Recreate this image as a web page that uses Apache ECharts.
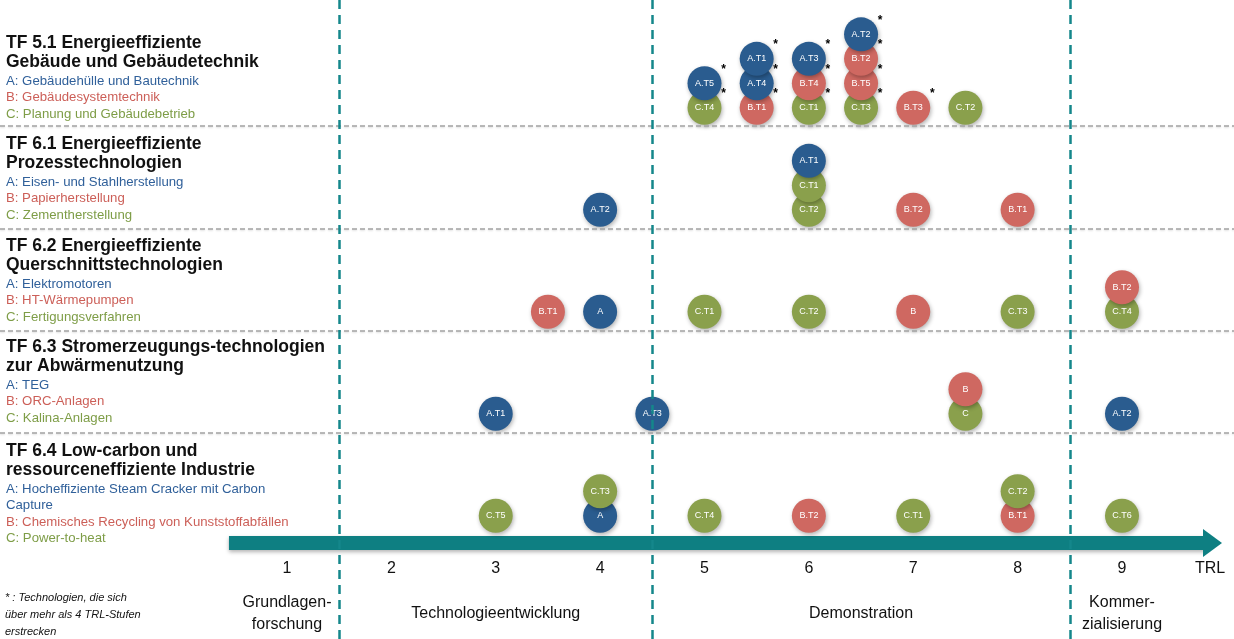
<!DOCTYPE html>
<html><head><meta charset="utf-8">
<script src="https://cdn.jsdelivr.net/npm/echarts@6/dist/echarts.min.js"></script>
<style>html,body{margin:0;padding:0;background:#fff}#c{width:1234px;height:639px}</style>
</head><body><div id="c"></div>
<script>
// ---------- data ----------
const tickValues = [1, 2, 3, 4, 5, 6, 7, 8, 9];
const tickLabels = ['1', '2', '3', '4', '5', '6', '7', '8', '9'];
const axisName = 'TRL';
// phase name, first TRL, last TRL
const phases = [
  ['Grundlagen-\nforschung', 1, 1],
  ['Technologieentwicklung', 2, 4],
  ['Demonstration', 5, 8],
  ['Kommer-\nzialisierung', 9, 9]
];
const rowTitles = [
  'TF 5.1 Energieeffiziente\nGebäude und Gebäudetechnik',
  'TF 6.1 Energieeffiziente\nProzesstechnologien',
  'TF 6.2 Energieeffiziente\nQuerschnittstechnologien',
  'TF 6.3 Stromerzeugungs-technologien\nzur Abwärmenutzung',
  'TF 6.4 Low-carbon und\nressourceneffiziente Industrie'
];
const rowSubtitles = [
  ['A: Gebäudehülle und Bautechnik', 'B: Gebäudesystemtechnik', 'C: Planung und Gebäudebetrieb'],
  ['A: Eisen- und Stahlherstellung', 'B: Papierherstellung', 'C: Zementherstellung'],
  ['A: Elektromotoren', 'B: HT-Wärmepumpen', 'C: Fertigungsverfahren'],
  ['A: TEG', 'B: ORC-Anlagen', 'C: Kalina-Anlagen'],
  ['A: Hocheffiziente Steam Cracker mit Carbon\nCapture', 'B: Chemisches Recycling von Kunststoffabfällen', 'C: Power-to-heat']
];
const footnote = '* : Technologien, die sich\nüber mehr als 4 TRL-Stufen\nerstrecken';
// [TRL, stack level, label, spans > 4 TRL (asterisk)]
const tf51 = [
  [5, 0, 'C.T4', 1], [5, 1, 'A.T5', 1],
  [5.5, 0, 'B.T1', 1], [5.5, 1, 'A.T4', 1], [5.5, 2, 'A.T1', 1],
  [6, 0, 'C.T1', 1], [6, 1, 'B.T4', 1], [6, 2, 'A.T3', 1],
  [6.5, 0, 'C.T3', 1], [6.5, 1, 'B.T5', 1], [6.5, 2, 'B.T2', 1], [6.5, 3, 'A.T2', 1],
  [7, 0, 'B.T3', 1], [7.5, 0, 'C.T2', 0]
];
const tf61 = [
  [4, 0, 'A.T2', 0], [6, 0, 'C.T2', 0], [6, 1, 'C.T1', 0], [6, 2, 'A.T1', 0],
  [7, 0, 'B.T2', 0], [8, 0, 'B.T1', 0]
];
const tf62 = [
  [3.5, 0, 'B.T1', 0], [4, 0, 'A', 0], [5, 0, 'C.T1', 0], [6, 0, 'C.T2', 0],
  [7, 0, 'B', 0], [8, 0, 'C.T3', 0], [9, 0, 'C.T4', 0], [9, 1, 'B.T2', 0]
];
const tf63 = [
  [3, 0, 'A.T1', 0], [4.5, 0, 'A.T3', 0], [7.5, 0, 'C', 0], [7.5, 1, 'B', 0], [9, 0, 'A.T2', 0]
];
const tf64 = [
  [3, 0, 'C.T5', 0], [4, 0, 'A', 0], [4, 1, 'C.T3', 0], [5, 0, 'C.T4', 0],
  [6, 0, 'B.T2', 0], [7, 0, 'C.T1', 0], [8, 0, 'B.T1', 0], [8, 1, 'C.T2', 0], [9, 0, 'C.T6', 0]
];
const rowsData = [tf51, tf61, tf62, tf63, tf64];

// ---------- styling / layout ----------
const FONT = '"Liberation Sans", Arial, sans-serif';
const circleColors = { A: '#2A5C8F', B: '#CF6861', C: '#8AA04C' };
const textColors = { A: '#30609A', B: '#CC5F58', C: '#7E9D47' };
const TEAL = '#0E7F82';
const STEP = 0.24;          // stack offset in row units
const ARROW_Y = 4.267, TICK_Y = 4.52, PHASE_Y = 4.963;

const circles = [], stars = [];
rowsData.forEach((rows, r) => {
  rows.forEach(d => {
    const g = d[2][0];
    const pt = [d[0], r - d[1] * STEP];
    circles.push({ value: pt, name: d[2], itemStyle: { color: circleColors[g] } });
    if (d[3]) stars.push({ value: pt, name: '*' });
  });
});

const tickData = tickValues.map((v, i) => ({ value: [v, TICK_Y], name: tickLabels[i] }));
tickData.push({ value: [9.843, TICK_Y], name: axisName });
const phaseData = phases.map(p => ({ value: [(p[1] + p[2]) / 2, PHASE_Y], name: p[0] }));
const boundaries = phases.slice(1).map(p => ({ xAxis: p[1] - 0.5 }));
const separators = rowsData.slice(1).map((_, i) => ({ yAxis: i + 0.185 }));

// legend text graphics
const graphics = [];
const rowTop = [44, 145, 247, 348, 452];
rowTitles.forEach((t, i) => {
  let y = rowTop[i];
  t.split('\n').forEach(line => {
    graphics.push({ type: 'text', left: 6, top: y - 10, silent: true,
      style: { text: line, fill: '#111', font: 'bold 17.5px ' + FONT } });
    y += 19;
  });
  rowSubtitles[i].forEach(s => {
    const g = s[0];
    s.split('\n').forEach(line => {
      graphics.push({ type: 'text', left: 6, top: y - 7.5, silent: true,
        style: { text: line, fill: textColors[g], font: '13.2px ' + FONT } });
      y += 16.5;
    });
  });
});
footnote.split('\n').forEach((line, i) => {
  graphics.push({ type: 'text', left: 5, top: 592 + i * 17, silent: true,
    style: { text: line, fill: '#111', font: 'italic 11px ' + FONT } });
});

const textLayer = (data, extra) => ({
  type: 'scatter', z: 5, silent: true, clip: false, symbolSize: 1,
  itemStyle: { color: 'rgba(0,0,0,0)', opacity: 1 }, data: data,
  label: Object.assign({ show: true, position: 'inside', formatter: '{b}',
    color: '#111', fontSize: 16, fontFamily: FONT,
    textBorderWidth: 0, textBorderColor: 'transparent', opacity: 1 }, extra)
});

const chart = echarts.init(document.getElementById('c'));
chart.setOption({
  animation: false,
  backgroundColor: '#fff',
  grid: { left: 0, right: 0, top: 0, bottom: 0 },
  xAxis: { type: 'value', min: -1.7497, max: 10.0730, show: false },
  yAxis: { type: 'value', inverse: true, min: -1.0569, max: 5.2078, show: false },
  graphic: graphics,
  series: [
    { type: 'line', data: [], z: 1, silent: true,
      markLine: { silent: true, symbol: 'none', label: { show: false },
        lineStyle: { type: [5, 3], color: '#a3a3a3', width: 1.5,
          shadowColor: 'rgba(0,0,0,0.15)', shadowBlur: 2, shadowOffsetY: 1 },
        data: separators } },
    { type: 'line', z: 2, silent: true, clip: false, symbol: 'none',
      data: [[0.444, ARROW_Y], [9.80, ARROW_Y]],
      lineStyle: { color: TEAL, width: 14, cap: 'butt',
        shadowColor: 'rgba(0,0,0,0.3)', shadowBlur: 4, shadowOffsetY: 2 } },
    { type: 'scatter', z: 2, silent: true, clip: false,
      data: [[9.867, ARROW_Y]], symbol: 'triangle', symbolSize: [28, 19], symbolRotate: -90,
      itemStyle: { color: TEAL, opacity: 1 } },
    { type: 'line', data: [], z: 3, silent: true,
      markLine: { silent: true, symbol: 'none', label: { show: false },
        lineStyle: { type: [9, 6], color: '#14878B', width: 2.5 },
        data: boundaries } },
    { type: 'scatter', z: 4, silent: true, clip: false, symbolSize: 34,
      data: circles,
      itemStyle: { opacity: 1, shadowColor: 'rgba(0,0,0,0.3)', shadowBlur: 4, shadowOffsetX: 1, shadowOffsetY: 2 },
      label: { show: true, position: 'inside', formatter: '{b}', color: '#fff',
        textBorderWidth: 0, fontSize: 9,
        fontFamily: '"Liberation Sans Narrow", "Liberation Sans", Arial, sans-serif' } },
    textLayer(stars, { offset: [19, -14], color: '#000', fontSize: 12, fontWeight: 'bold' }),
    textLayer(tickData, {}),
    textLayer(phaseData, { lineHeight: 22 })
  ]
});
</script></body></html>
